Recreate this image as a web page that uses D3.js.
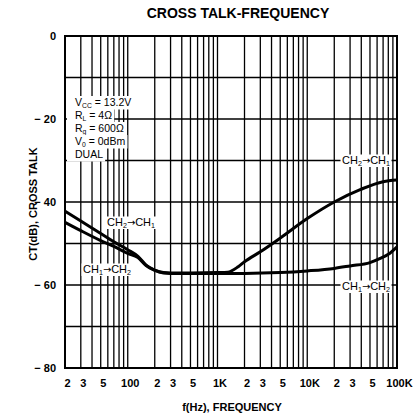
<!DOCTYPE html>
<html>
<head>
<meta charset="utf-8">
<script src="https://cdn.jsdelivr.net/npm/d3@7"></script>
<style>
  html, body { margin: 0; padding: 0; background: #fff; }
  svg { display: block; }
  text { font-family: "Liberation Sans", Arial, Helvetica, sans-serif; fill: #000; }
</style>
</head>
<body>
<svg id="chart" width="415" height="414"></svg>
<script>
// ---- data ----
const freqCH21 = [20, 30, 50, 70, 100, 130, 160, 200, 250, 300, 500, 1000, 1300, 1700, 2000, 3000, 5000, 10000, 20000, 40000, 70000, 100000];
const ctCH21   = [-42.2, -44.6, -47.6, -49.6, -51.5, -53.1, -55.2, -56.4, -57.0, -57.1, -57.1, -57.0, -56.9, -55.6, -54.4, -52.0, -48.7, -44.0, -40.0, -36.9, -35.1, -34.7];

const freqCH12 = [20, 30, 50, 70, 100, 130, 160, 200, 250, 300, 500, 1000, 2000, 5000, 10000, 20000, 30000, 50000, 65000, 80000, 100000];
const ctCH12   = [-44.9, -46.9, -49.3, -50.7, -52.4, -53.4, -55.3, -56.5, -57.1, -57.2, -57.2, -57.2, -57.2, -57.0, -56.6, -56.0, -55.4, -54.6, -53.6, -52.6, -50.8];

const xTickValues = [20, 30, 50, 100, 200, 300, 500, 1000, 2000, 3000, 5000, 10000, 20000, 30000, 50000, 100000];
const xTickLabels = ["2", "3", "5", "100", "2", "3", "5", "1K", "2", "3", "5", "10K", "2", "3", "5", "100K"];
const yTickValues = [0, -20, -40, -60, -80];
const yTickLabels = ["0", "\u2212 20", "\u2212 40", "\u2212 60", "\u2212 80"];

// ---- layout ----
const svg = d3.select("#chart");
const x = d3.scaleLog().domain([20, 100000]).range([65, 397]);
const y = d3.scaleLinear().domain([-80, 0]).range([368, 36]);

// grid lines: every 1..9 per decade
const vGrid = [];
for (let dec = 10; dec <= 10000; dec *= 10) {
  for (let m = 1; m <= 9; m++) {
    const f = dec * m;
    if (f > 20 && f < 100000) vGrid.push(f);
  }
}
const hGrid = d3.range(-70, 0, 10);

const grid = svg.append("g");
grid.selectAll("line.v").data(vGrid).join("line")
  .attr("x1", d => x(d)).attr("x2", d => x(d))
  .attr("y1", y(0)).attr("y2", y(-80))
  .attr("stroke", "#000").attr("stroke-width", 1.3);
grid.selectAll("line.h").data(hGrid).join("line")
  .attr("x1", x(20)).attr("x2", x(100000))
  .attr("y1", d => y(d)).attr("y2", d => y(d))
  .attr("stroke", "#000").attr("stroke-width", 1.3);

// curves
const line = d3.line().x(d => x(d[0])).y(d => y(d[1])).curve(d3.curveMonotoneX);
svg.append("path").datum(d3.zip(freqCH21, ctCH21))
  .attr("d", line).attr("fill", "none").attr("stroke", "#000").attr("stroke-width", 3);
svg.append("path").datum(d3.zip(freqCH12, ctCH12))
  .attr("d", line).attr("fill", "none").attr("stroke", "#000").attr("stroke-width", 3);

// helper: text with white background (box tiles with line spacing)
function labelWithBg(parent, xPos, yPos, parts, size, padL, padR, boxTop, boxH) {
  const g = parent.append("g");
  const rect = g.append("rect").attr("fill", "#fff");
  const t = g.append("text").attr("x", xPos).attr("y", yPos)
    .attr("font-size", size);
  let shifted = false;
  parts.forEach(p => {
    if (p.sub) {
      t.append("tspan").attr("font-size", size * 0.65).attr("dy", 2).text(p.sub);
      shifted = true;
    } else {
      const ts = t.append("tspan").text(p.t);
      if (p.arrow) ts.attr("font-family", "DejaVu Sans").attr("font-size", size * 0.9);
      if (shifted) { ts.attr("dy", -2); shifted = false; }
    }
  });
  const bb = t.node().getBBox();
  rect.attr("x", bb.x - padL).attr("y", yPos - boxTop)
      .attr("width", bb.width + padL + padR).attr("height", boxH);
  return g;
}

// condition block
const cond = [
  [{t: "V"}, {sub: "CC"}, {t: " = 13.2V"}],
  [{t: "R"}, {sub: "L"}, {t: " = 4\u03A9"}],
  [{t: "R"}, {sub: "g"}, {t: " = 600\u03A9"}],
  [{t: "V"}, {sub: "0"}, {t: " = 0dBm"}],
  [{t: "DUAL"}]
];
cond.forEach((parts, i) => labelWithBg(svg, 75, 106 + i * 13, parts, 10.5, 8, 2, 10, 13.5));

// curve labels
const lab21 = [{t: "CH"}, {sub: "2"}, {t: "\u2192", arrow: true}, {t: "CH"}, {sub: "1"}];
const lab12 = [{t: "CH"}, {sub: "1"}, {t: "\u2192", arrow: true}, {t: "CH"}, {sub: "2"}];
labelWithBg(svg, 107, 226, lab21, 11, 1.5, 1.5, 9.5, 12.5);
labelWithBg(svg, 83, 273, lab12, 11, 1.5, 1.5, 9.5, 12.5);
labelWithBg(svg, 342, 164, lab21, 11, 1.5, 1.5, 9.5, 12.5);
labelWithBg(svg, 342, 290, lab12, 11, 1.5, 1.5, 9.5, 12.5);

// frame
svg.append("rect")
  .attr("x", x(20)).attr("y", y(0))
  .attr("width", x(100000) - x(20)).attr("height", y(-80) - y(0))
  .attr("fill", "none").attr("stroke", "#000").attr("stroke-width", 2);

// axis tick labels
svg.append("g").selectAll("text").data(xTickValues).join("text")
  .attr("x", d => x(d) + 2.5).attr("y", 387)
  .attr("text-anchor", "middle").attr("font-size", 11).attr("font-weight", "bold")
  .text((d, i) => xTickLabels[i]);

svg.append("g").selectAll("text").data(yTickValues).join("text")
  .attr("x", 56).attr("y", d => y(d) + 4)
  .attr("text-anchor", "end").attr("font-size", 11).attr("font-weight", "bold")
  .text((d, i) => yTickLabels[i]);

// titles
svg.append("text").attr("x", 238).attr("y", 18)
  .attr("text-anchor", "middle").attr("font-size", 14).attr("font-weight", "bold")
  .text("CROSS TALK-FREQUENCY");

svg.append("text").attr("x", 232).attr("y", 411)
  .attr("text-anchor", "middle").attr("font-size", 11).attr("font-weight", "bold")
  .text("f(Hz), FREQUENCY");

svg.append("text")
  .attr("transform", "translate(37,204) rotate(-90)")
  .attr("text-anchor", "middle").attr("font-size", 11).attr("font-weight", "bold")
  .text("CT(dB), CROSS TALK");
</script>
</body>
</html>
